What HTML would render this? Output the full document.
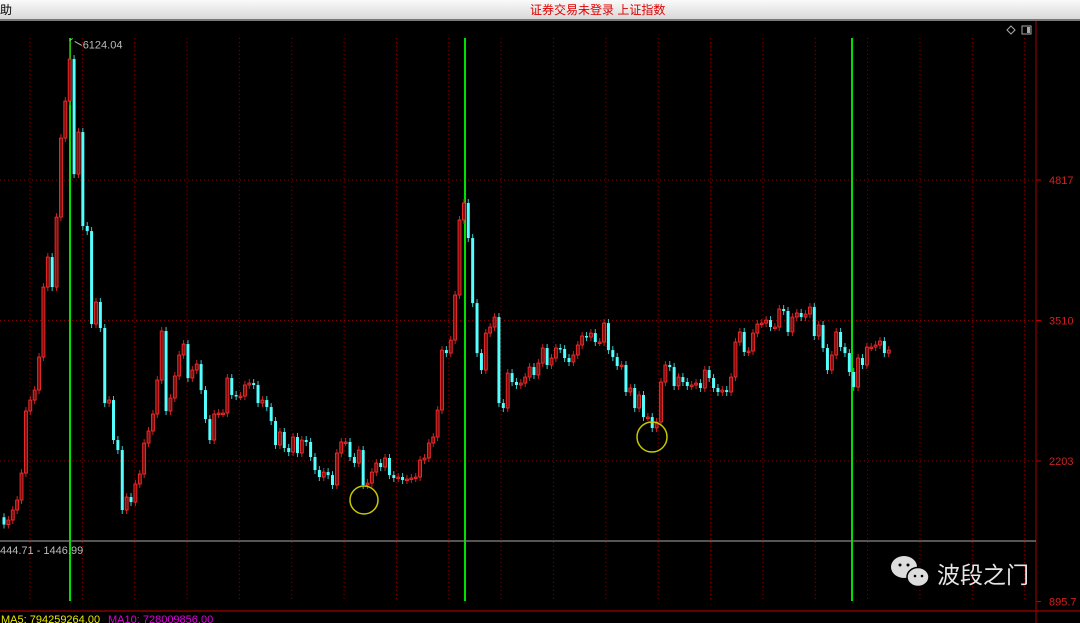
<!DOCTYPE html>
<html><head><meta charset="utf-8">
<style>
html,body{margin:0;padding:0;background:#000;width:1080px;height:623px;overflow:hidden;}
svg text{font-family:"Liberation Sans","Noto Sans CJK SC",sans-serif;}
</style></head>
<body>
<svg id="chart" width="1080" height="623" xmlns="http://www.w3.org/2000/svg">
<defs><linearGradient id="hdr" x1="0" y1="0" x2="0" y2="1"><stop offset="0" stop-color="#fafafa"/><stop offset="1" stop-color="#d6d6d6"/></linearGradient></defs>
<rect x="0" y="0" width="1080" height="623" fill="#000"/>
<g>
<rect x="0" y="0" width="1080" height="20" fill="url(#hdr)"/>
<rect x="0" y="19" width="1080" height="2" fill="#777"/>
<text x="0" y="14" font-size="12" fill="#000">助</text>
<text x="530" y="14" font-size="12" fill="#e00000">证券交易未登录  上证指数</text>
</g>
<g id="grid"></g>
<g id="marks"></g>
<g id="axis"></g>
<g>
<path d="M1011 26 L1015 30 L1011 34 L1007 30 Z" fill="none" stroke="#aaa" stroke-width="1"/>
<rect x="1022" y="26" width="9" height="8" fill="none" stroke="#aaa"/>
<rect x="1027" y="27" width="3" height="6" fill="#aaa"/>
</g>
<circle cx="364" cy="500" r="14" fill="none" stroke="#c8c800" stroke-width="1.5"/>
<circle cx="652" cy="437" r="15" fill="none" stroke="#c8c800" stroke-width="1.5"/>
<line x1="0" y1="541" x2="1036" y2="541" stroke="#888" stroke-width="1.2"/>
<text x="0" y="554" font-size="11" fill="#bbb">444.71 - 1446.99</text>
<line x1="0" y1="611" x2="1080" y2="611" stroke="#a00000" stroke-width="1.2"/>
<text x="1" y="623" font-size="11" fill="#e8e800">MA5: 794259264.00</text>
<text x="108" y="623" font-size="11" fill="#e000e0">MA10: 728009856.00</text>
<g>
<ellipse cx="904" cy="567" rx="13" ry="11" fill="#ddd"/>
<ellipse cx="918" cy="577" rx="11" ry="9.5" fill="#ddd" stroke="#000" stroke-width="1.5"/>
<circle cx="900" cy="565" r="1.5" fill="#000"/><circle cx="908" cy="565" r="1.5" fill="#000"/>
<circle cx="915" cy="576" r="1.3" fill="#000"/><circle cx="922" cy="576" r="1.3" fill="#000"/>
<text x="937" y="583" font-size="23" fill="#e6e6e6">波段之门</text>
</g>
</svg>
<script>
const closes=[1612,1654,1747,1840,2091,2668,2770,2863,3170,3821,4100,3821,4472,5207,5551,5942,4872,5263,4389,4342,3477,3682,3440,2742,2770,2398,2305,1747,1868,1821,1989,2082,2370,2482,2640,2956,3412,2668,2789,2994,3189,3291,2975,3049,3105,2863,2593,2398,2640,2649,2649,2975,2817,2807,2807,2910,2928,2910,2742,2770,2705,2575,2352,2473,2324,2286,2426,2277,2398,2380,2240,2119,2054,2100,2072,1980,2277,2380,2380,2240,2184,2305,1980,1998,2100,2184,2147,2231,2072,2045,2054,2026,2035,2045,2054,2212,2231,2370,2426,2677,3235,3207,3328,3747,4445,4603,4277,3672,3207,3049,3393,3449,3542,2742,2696,3021,2938,2910,2928,2984,3077,3003,3114,3254,3096,3161,3254,3245,3161,3124,3189,3282,3366,3356,3393,3310,3310,3486,3235,3170,3087,3096,2845,2882,2696,2817,2612,2612,2510,2566,2938,3096,3077,2901,2984,2938,2901,2910,2928,2882,3049,2975,2882,2845,2863,2845,2984,3310,3403,3217,3226,3393,3477,3486,3514,3449,3449,3617,3598,3403,3542,3580,3542,3570,3635,3366,3468,3254,3049,3189,3403,3263,3207,3031,2891,3161,3096,3263,3263,3282,3319,3207,3235];
const firstOpen=1680;
const peakIndex=15, peakHigh=6124.04;
const axisTicks=[4817,3510,2203,895.7];
const axisLabels=["4817","3510","2203","895.7"];
const greenLineIdx=[15,105,193];

const NS="http://www.w3.org/2000/svg";
const yOf=v=>180+(4817-v)/9.302;
const xOf=i=>4+i*4.38;
function mk(tag,attrs,parent){const e=document.createElementNS(NS,tag);for(const k in attrs)e.setAttribute(k,attrs[k]);parent.appendChild(e);return e;}
const grid=document.getElementById('grid'),marks=document.getElementById('marks'),axis=document.getElementById('axis');
for(let gx=30;gx<1030;gx+=52.35){
  const l=mk('line',{x1:gx,y1:38,x2:gx,y2:601,stroke:'#8a0000','stroke-dasharray':'1,3','stroke-width':1},grid);
  
  
}
axisTicks.forEach((v,k)=>{
  const y=yOf(v);
  if(k<3){const l=mk('line',{x1:0,y1:y,x2:1036,y2:y,stroke:'#8a0000','stroke-dasharray':'1,3','stroke-width':1},grid);
  
  }
  mk('line',{x1:1036,y1:y,x2:1041,y2:y,stroke:'#c00000'},axis);
  const t=mk('text',{x:1049,y:y+4,'font-size':11,fill:'#d02020'},axis);
  t.textContent=axisLabels[k];
  
  
});
mk('line',{x1:1036,y1:21,x2:1036,y2:623,stroke:'#8a0000','stroke-width':1.2},axis);
greenLineIdx.forEach(i=>{
  const x=Math.round(xOf(i))+(i===15?0:(i===105?1:3));
  const l=mk('line',{x1:x,y1:38,x2:x,y2:601,stroke:'#00e000','stroke-width':2},marks);
  
  
});
closes.forEach((c,i)=>{
  const o=i===0?firstOpen:closes[i-1];
  const up=c>=o;
  const x=xOf(i);
  const yt=yOf(Math.max(o,c)),yb=yOf(Math.min(o,c));
  const col=up?'#ff3030':'#54ffff';
  let wt=yt-4,wb=yb+4;
  if(i===peakIndex) wt=yOf(peakHigh);
  const w=mk('line',{x1:x,y1:wt,x2:x,y2:wb,stroke:up?'#d02020':'#3cc8c8','stroke-width':1},marks);
  
  
  const b=mk('rect',{x:x-1.5,y:yt,width:3,height:Math.max(1.5,yb-yt),fill:up?'#801010':col,stroke:up?col:'none','stroke-width':up?0.8:0},marks);
  
  
});
const px=xOf(peakIndex),py=yOf(peakHigh);
mk('path',{d:`M${px} ${py+1} L${px+3} ${py-1} M${px+5} ${py+2} L${px+12} ${py+6}`,stroke:'#bbb',fill:'none'},axis);
const pl=mk('text',{x:px+13,y:py+9,'font-size':11,fill:'#bbb'},axis);
pl.textContent=peakHigh.toFixed(2);


</script>
</body></html>
